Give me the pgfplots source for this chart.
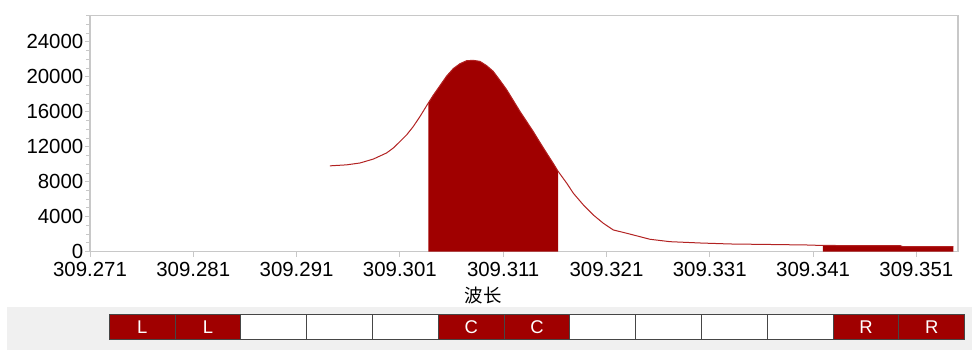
\documentclass[border=0pt]{standalone}
\usepackage{fontspec}
\setmainfont{Liberation Sans}
\newfontfamily\cjk{Noto Sans CJK SC}
\usepackage{pgfplots}
\pgfplotsset{compat=1.18}
\usepackage{pgfplotstable}
\definecolor{fillred}{RGB}{160,0,0}
\definecolor{linered}{RGB}{178,34,34}
\definecolor{axgray}{RGB}{200,200,200}
\definecolor{band}{RGB}{240,240,240}
\definecolor{cellborder}{RGB}{70,70,70}

% x = (wavelength - 309.271) * 1000, y = intensity
\pgfplotstableread{
x y
23.23 9822
24.85 9937
26.14 10150
27.43 10600
28.72 11300
29.40 11900
30.01 12607
30.66 13375
31.30 14327
31.95 15473
32.75 17009
33.23 17900
33.88 19000
34.53 20100
35.17 20950
35.82 21513
36.47 21857
37.11 21891
37.75 21777
38.40 21284
39.04 20630
39.69 19600
40.34 18533
40.98 17300
41.63 16046
42.27 14900
42.91 13754
43.56 12500
44.21 11278
44.85 10100
45.33 9169
46.15 7840
46.79 6693
47.76 5352
48.72 4206
49.69 3255
50.66 2487
51.96 2109
53.24 1719
54.21 1421
56.15 1146
59.05 997
61.96 883
65.83 825
69.38 768
70.96 711
78.41 700
78.70 573
83.57 573
}\spectrum

\begin{document}
\begin{tikzpicture}
\path[use as bounding box] (0,0) rectangle (972bp,350bp);
\fill[band] (7bp,0) rectangle (972bp,43.3bp);
\begin{axis}[
  at={(90bp,98.3bp)}, anchor=south west,
  scale only axis, width=868bp, height=236bp,
  xmin=0, xmax=84.03, ymin=0, ymax=27000,
  xtick={0,10,...,80},
  xticklabels={309.271,309.281,309.291,309.301,309.311,309.321,309.331,309.341,309.351},
  ytick={0,4000,...,24000},
  scaled y ticks=false,
  minor ytick={1000,2000,3000,5000,6000,7000,9000,10000,11000,13000,14000,15000,17000,18000,19000,21000,22000,23000,25000,26000,27000},
  axis line style={axgray, line width=1.3bp},
  tick style={axgray, line width=1bp},
  tick align=outside,
  tick pos=left,
  major tick length=5bp, minor tick length=4bp,
  tick label style={font=\fontsize{20.5}{24}\selectfont, text=black},
  /pgf/number format/assume math mode=true,
  /pgf/number format/1000 sep={},
  yticklabel style={inner xsep=1.5bp, inner ysep=0pt, /pgf/number format/fixed},
  xticklabel style={inner sep=0pt, yshift=-5bp},
]
\addplot[draw=none, fill=fillred, restrict x to domain=32.74:45.34] table {\spectrum} \closedcycle;
\addplot[draw=none, fill=fillred, restrict x to domain=70.95:83.58] table {\spectrum} \closedcycle;
\addplot[linered, line width=1bp, mark=none] table {\spectrum};
\end{axis}
\node[font=\cjk\fontsize{18.5}{20}\selectfont, inner sep=0pt] at (483bp,54bp) {波长};
\foreach \i/\lab in {0/L,1/L,2/,3/,4/,5/C,6/C,7/,8/,9/,10/,11/R,12/R}{
  \pgfmathsetmacro{\xa}{109.3+65.8*\i}
  \pgfmathsetmacro{\xb}{109.3+65.8*(\i+1)}
  \ifx\lab\empty
    \filldraw[fill=white, draw=cellborder, line width=1bp] (\xa bp,10.7bp) rectangle (\xb bp,35.7bp);
  \else
    \filldraw[fill=fillred, draw=cellborder, line width=1bp] (\xa bp,10.7bp) rectangle (\xb bp,35.7bp);
    \node[text=white, font=\fontsize{18.5}{20}\selectfont, inner sep=0pt] at ({(\xa+\xb)/2*1bp},23.2bp) {\lab};
  \fi
}
\end{tikzpicture}
\end{document}
